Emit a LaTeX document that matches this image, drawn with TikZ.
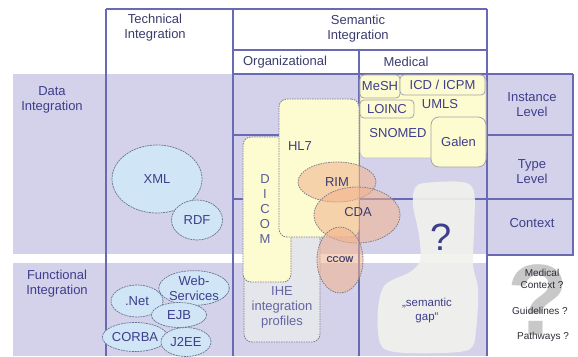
\documentclass[tikz,border=0pt]{standalone}
\usepackage{fontspec}
\setmainfont{Liberation Sans}
\usetikzlibrary{shapes.geometric}

\definecolor{band}{RGB}{212,210,234}
\definecolor{gridcol}{RGB}{105,105,180}
\definecolor{labelblue}{RGB}{62,62,140}
\definecolor{headtxt}{RGB}{60,60,110}
\definecolor{techfill}{RGB}{208,229,246}
\definecolor{techedge}{RGB}{105,115,150}
\definecolor{paleyellow}{RGB}{253,251,208}
\definecolor{dashgrey}{RGB}{125,125,135}
\definecolor{ihefill}{RGB}{229,229,236}
\definecolor{peach}{RGB}{242,178,140}
\definecolor{gapfill}{RGB}{241,241,237}
\definecolor{boxedge}{RGB}{165,165,165}
\definecolor{bigq}{RGB}{200,200,200}
\definecolor{qtxt}{RGB}{45,45,55}

\tikzset{
  gridln/.style={draw=gridcol, line width=1.1pt},
  lbl/.style={font=\fontsize{13}{15}\selectfont, text=labelblue, align=center, inner sep=0pt},
  headlbl/.style={lbl, text=headtxt},
  techell/.style={ellipse, draw=techedge, dash pattern=on 2pt off 0.8pt, line width=0.7pt,
    fill=techfill, inner sep=0pt, font=\fontsize{13}{14}\selectfont, text=labelblue, align=center},
  orgbox/.style={rectangle, rounded corners=8pt, draw=dashgrey, dash pattern=on 1.5pt off 1pt,
    line width=0.8pt, inner sep=0pt},
  peachell/.style={ellipse, draw=dashgrey, dash pattern=on 1.5pt off 1pt, line width=0.8pt,
    fill=peach, fill opacity=0.55, text opacity=1, inner sep=0pt,
    font=\fontsize{13}{14}\selectfont, text=headtxt},
  termbox/.style={rectangle, rounded corners=4pt, draw=boxedge, line width=0.8pt,
    fill=paleyellow, inner sep=0pt, font=\fontsize{13}{14}\selectfont, text=labelblue},
  qlbl/.style={font=\fontsize{10}{12.5}\selectfont, text=qtxt, align=center, inner sep=0pt},
}

\begin{document}
\begin{tikzpicture}[x=1pt, y=-1pt]
\useasboundingbox (0,0) rectangle (578,356);
\fill[white] (0,0) rectangle (578,356);

% row bands
\fill[band] (13,74) rectangle (487,254);
\fill[band] (487,74) rectangle (573,255);
\fill[band] (13,263) rectangle (487,356);

% table rules
\draw[gridln] (106,9) -- (487,9);
\draw[gridln] (106,9) -- (106,356);
\draw[gridln] (233,9) -- (233,356);
\draw[gridln] (487,9) -- (487,356);
\draw[gridln] (233,50) -- (487,50);
\draw[gridln] (359,50) -- (359,356);
\draw[gridln] (233,74) -- (573,74);
\draw[gridln] (233,135) -- (573,135);
\draw[gridln] (233,199) -- (573,199);
\draw[gridln] (573,74) -- (573,255) -- (487,255);

% headers
\node[headlbl] (tech) at (155,28) {Technical\\Integration};
\node[headlbl] (sem) at (358,29) {Semantic\\Integration};
\node[headlbl] (org) at (285,62) {Organizational};
\node[headlbl] (med) at (406,62) {Medical};

% row labels
\node[lbl] (dataint) at (52,100) {Data\\Integration};
\node[lbl] (funcint) at (57,284) {Functional\\Integration};
\node[lbl] (inst) at (532,105) {Instance\\Level};
\node[lbl] (type) at (532,172) {Type\\Level};
\node[lbl] (ctx) at (532,223) {Context};

% technical integration
\node[techell, minimum width=90pt, minimum height=68pt] (xml) at (157,179) {XML};
\node[techell, minimum width=51pt, minimum height=40pt] (rdf) at (197,220) {RDF};
\node[techell, minimum width=52pt, minimum height=32pt] (net) at (137,301) {.Net};
\node[techell, minimum width=67pt, minimum height=32pt, font=\fontsize{13}{15}\selectfont]
  (web) at (194,288) {Web-\\Services};
\node[techell, minimum width=55pt, minimum height=25pt] (ejb) at (179,315) {EJB};
\node[techell, minimum width=46pt, minimum height=29pt] (corba) at (135,337) {CORBA};
\node[techell, minimum width=50pt, minimum height=29pt] (jee) at (186,342) {J2EE};

% organizational standards
\node[orgbox, fill=ihefill, minimum width=76pt, minimum height=122pt] (ihe) at (282,281) {};
\node[lbl, text=labelblue!80] (ihetxt) at (282,307) {IHE\\integration\\profiles};
\node[orgbox, fill=paleyellow, minimum width=48pt, minimum height=145pt] (dicom) at (267,209.5) {};
\node[lbl, text=labelblue!85] (dicomtxt) at (265,209) {D\\I\\C\\O\\M};
\node[orgbox, fill=paleyellow, minimum width=80pt, minimum height=138pt] (hl7) at (319,168) {};
\node[lbl] (hl7txt) at (300,146) {HL7};
\node[peachell, minimum width=78pt, minimum height=40pt] (rim) at (337,182) {RIM};
\node[peachell, minimum width=86pt, minimum height=56pt] (cda) at (357,215) {};
\node[lbl, text=headtxt] (cdatxt) at (358,212) {CDA};
\node[peachell, minimum width=46pt, minimum height=66pt,
  font=\bfseries\fontsize{8.5}{10}\selectfont] (ccow) at (340,260) {CCOW};

% medical terminologies
\node[rectangle, rounded corners=6pt, draw=boxedge!70, line width=0.6pt, fill=paleyellow,
  minimum width=126pt, minimum height=83pt, inner sep=0pt] (terms) at (423,116.5) {};
\node[lbl] (umls) at (440,104) {UMLS};
\node[lbl] (snomed) at (398,133) {SNOMED};
\node[termbox, minimum width=40pt, minimum height=23pt] (mesh) at (380,86.5) {MeSH};
\node[termbox, minimum width=85pt, minimum height=20pt] (icd) at (442.5,85) {ICD / ICPM};
\node[termbox, minimum width=54pt, minimum height=18pt] (loinc) at (387,109) {LOINC};
\node[termbox, rounded corners=8pt, minimum width=55pt, minimum height=50pt] (galen) at (458.5,142) {Galen};

% semantic gap
\fill[gapfill, opacity=0.92] plot[smooth cycle, tension=0.55] coordinates {
  (425,183) (462,182) (474,192) (474,230) (473,265) (478,290) (476,330) (470,349)
  (440,353) (395,352) (380,343) (378,310) (385,285) (410,272) (420,260) (419,235)
  (413,205) (415,188)};
\node[font=\fontsize{38}{40}\selectfont, text=labelblue, inner sep=0pt] (qmark) at (441,237) {?};
\node[lbl, font=\fontsize{11.5}{14}\selectfont] (gap) at (427,311) {„semantic\\gap“};

% open questions
\node[font=\bfseries\fontsize{100}{100}\selectfont, text=bigq, inner sep=0pt] (bigqm) at (538,300) {?};
\node[qlbl] (medctx) at (542,279) {Medical\\Context ?};
\node[qlbl] (guide) at (540,311) {Guidelines ?};
\node[qlbl] (path) at (543,337) {Pathways ?};
\end{tikzpicture}
\end{document}
